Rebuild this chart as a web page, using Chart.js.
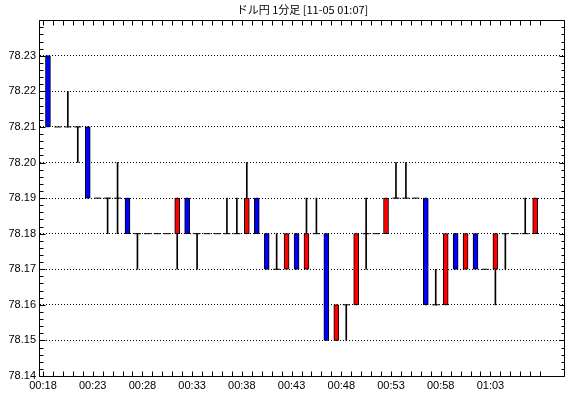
<!DOCTYPE html>
<html>
<head>
<meta charset="utf-8">
<script src="https://cdn.jsdelivr.net/npm/chart.js@4"></script>
<style>
html, body { margin: 0; padding: 0; background: #fff; }
</style>
</head>
<body>
<canvas id="chart" width="570" height="398"></canvas>
<script>
// ドル円 1分足, 00:18 - 01:07 (one candle per minute)
var chartTitle = "ドル円 1分足 [11-05 01:07]";
var startHour = 0, startMinute = 18;
var openP  = [78.23,78.21,78.21,78.21,78.21,78.19,78.19,78.19,78.19,78.18,
              78.18,78.18,78.18,78.18,78.19,78.18,78.18,78.18,78.18,78.18,
              78.18,78.19,78.18,78.17,78.17,78.18,78.17,78.18,78.18,78.15,
              78.16,78.16,78.18,78.18,78.18,78.19,78.19,78.19,78.19,78.16,
              78.16,78.18,78.17,78.18,78.17,78.17,78.18,78.18,78.18,78.18];
var highP  = [78.23,78.21,78.22,78.21,78.21,78.19,78.19,78.20,78.19,78.18,
              78.18,78.18,78.18,78.19,78.19,78.18,78.18,78.18,78.19,78.19,
              78.20,78.19,78.18,78.18,78.18,78.18,78.19,78.19,78.18,78.16,
              78.16,78.18,78.19,78.18,78.19,78.20,78.20,78.19,78.19,78.17,
              78.18,78.18,78.18,78.18,78.17,78.18,78.18,78.18,78.19,78.19];
var lowP   = [78.21,78.21,78.21,78.20,78.19,78.19,78.18,78.18,78.18,78.17,
              78.18,78.18,78.18,78.17,78.18,78.17,78.18,78.18,78.18,78.18,
              78.18,78.18,78.17,78.17,78.17,78.17,78.17,78.18,78.15,78.15,
              78.15,78.16,78.17,78.18,78.18,78.19,78.19,78.19,78.16,78.16,
              78.16,78.17,78.17,78.17,78.17,78.16,78.17,78.18,78.18,78.18];
var closeP = [78.21,78.21,78.21,78.21,78.19,78.19,78.19,78.19,78.18,78.18,
              78.18,78.18,78.18,78.19,78.18,78.18,78.18,78.18,78.18,78.18,
              78.19,78.18,78.17,78.17,78.18,78.17,78.18,78.18,78.15,78.16,
              78.16,78.18,78.18,78.18,78.19,78.19,78.19,78.19,78.16,78.16,
              78.18,78.17,78.18,78.17,78.17,78.18,78.18,78.18,78.18,78.19];
var yMin = 78.14, yMax = 78.24, yStep = 0.01;

function timeLabel(m) {
    var t = startHour * 60 + startMinute + m;
    var h = Math.floor(t / 60) % 24, mm = t % 60;
    return (h < 10 ? "0" : "") + h + ":" + (mm < 10 ? "0" : "") + mm;
}

var wicks = [], bodies = [], bodyColors = [], dojis = [];
for (var i = 0; i < openP.length; i++) {
    var x = i + 0.5;
    if (highP[i] > lowP[i]) wicks.push({x: x, y: [lowP[i], highP[i]]});
    if (openP[i] == closeP[i]) {
        dojis.push({x: x, y: openP[i]});
    } else {
        bodies.push({x: x, y: [Math.min(openP[i], closeP[i]), Math.max(openP[i], closeP[i])]});
        bodyColors.push(closeP[i] > openP[i] ? "#ff0000" : "#0000ff");
    }
}

// frame with inward tick marks on all four sides
var framePlugin = {
    id: "frame",
    afterDraw: function(chart) {
        var ctx = chart.ctx, a = chart.chartArea;
        var xs = chart.scales.x, ys = chart.scales.y;
        var L = Math.round(a.left) - 0.5, R = Math.round(a.right) - 0.5;
        var T = Math.round(a.top) + 0.5, B = Math.round(a.bottom) + 0.5;
        ctx.save();
        ctx.strokeStyle = "#000";
        ctx.lineWidth = 1;
        ctx.beginPath();
        ctx.rect(L, T, R - L, B - T);
        for (var m = 0; m <= openP.length; m++) {
            var px = Math.round(xs.getPixelForValue(m)) + 0.5;
            ctx.moveTo(px, B); ctx.lineTo(px, B - 5);
            ctx.moveTo(px, T); ctx.lineTo(px, T + 5);
        }
        var n = Math.round((yMax - yMin) / (yStep / 5));
        for (var k = 0; k <= n; k++) {
            var v = yMin + k * yStep / 5;
            var py = Math.round(ys.getPixelForValue(v)) + 0.5;
            var major = (k % 5 == 0);
            ctx.moveTo(L, py); ctx.lineTo(L + (major ? 6 : 4), py);
            ctx.moveTo(R, py); ctx.lineTo(R - (major ? 5 : 3), py);
        }
        ctx.stroke();
        ctx.restore();
    }
};

var ctx = document.getElementById("chart");
var myChart = new Chart(ctx, {
    type: "bar",
    data: {
        datasets: [
            {
                label: "wick",
                data: wicks,
                backgroundColor: "#000",
                barThickness: 1,
                grouped: false,
                order: 3
            },
            {
                label: "body",
                data: bodies,
                backgroundColor: bodyColors,
                borderColor: "#000",
                borderWidth: 1,
                borderSkipped: false,
                barThickness: 5,
                grouped: false,
                order: 2
            },
            {
                type: "line",
                label: "doji",
                data: dojis,
                showLine: false,
                pointStyle: "line",
                pointRadius: 3.5,
                pointBorderWidth: 1,
                borderColor: "#000",
                backgroundColor: "#000",
                order: 1
            }
        ]
    },
    options: {
        responsive: false,
        animation: false,
        events: [],
        layout: { autoPadding: false, padding: { top: 0, right: 5, bottom: 0, left: 0 } },
        plugins: {
            legend: { display: false },
            tooltip: { enabled: false },
            title: {
                display: true,
                text: chartTitle,
                fullSize: false,
                color: "#000",
                font: { family: "'Noto Sans CJK JP', sans-serif", size: 11, weight: "normal" },
                padding: { top: 3, bottom: 4 }
            }
        },
        scales: {
            x: {
                type: "linear",
                offset: false,
                min: -0.3,
                max: 52.5,
                grid: { display: false, drawTicks: false },
                border: { display: false },
                afterFit: function(s) {
                    s.height = 22;
                    s.paddingLeft = 0; s.paddingRight = 0;
                },
                ticks: {
                    stepSize: 1,
                    autoSkip: false,
                    maxRotation: 0,
                    includeBounds: false,
                    padding: 3,
                    color: "#000",
                    font: { family: "'Liberation Sans', sans-serif", size: 11 },
                    callback: function(v) {
                        return (v % 5 == 0 && v <= 45) ? timeLabel(v) : "";
                    }
                }
            },
            y: {
                min: yMin,
                max: yMax,
                grid: { color: "#000", drawTicks: false },
                border: { display: false, dash: [1, 2] },
                afterFit: function(s) {
                    s.width = 40;
                    s.paddingTop = 0; s.paddingBottom = 0;
                },
                ticks: {
                    stepSize: yStep,
                    padding: 4,
                    color: "#000",
                    font: { family: "'Liberation Sans', sans-serif", size: 11 },
                    callback: function(v) {
                        return Math.abs(v - yMax) < 1e-6 ? "" : v.toFixed(2);
                    }
                }
            }
        }
    },
    plugins: [framePlugin]
});
</script>
</body>
</html>
